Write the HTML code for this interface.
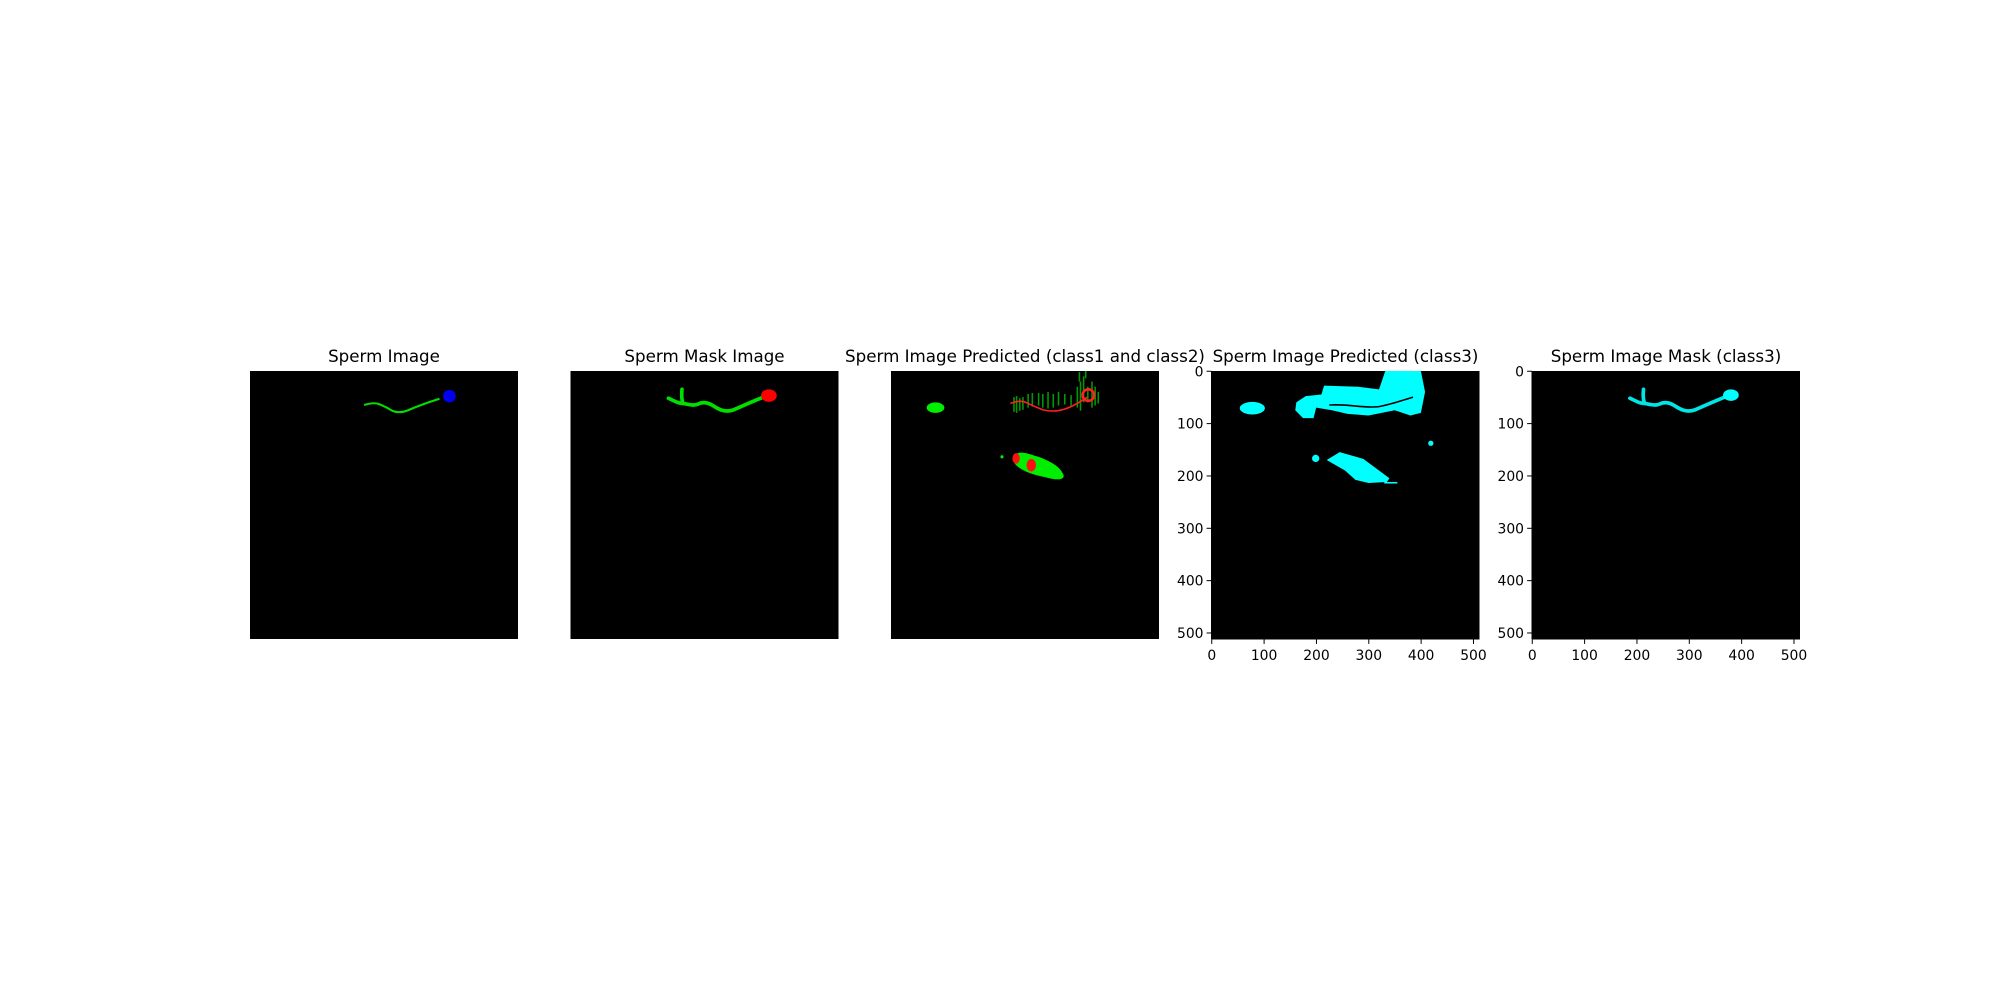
<!DOCTYPE html>
<html><head><meta charset="utf-8">
<style>
html,body{margin:0;padding:0;background:#fff;}
svg{display:block;font-family:"DejaVu Sans","Liberation Sans",sans-serif;}
</style></head>
<body>
<svg id="fig" width="2000" height="1000" viewBox="0 0 2000 1000" xmlns="http://www.w3.org/2000/svg">
<rect width="2000" height="1000" fill="#fff"/>
</svg>
<script>
const titles=["Sperm Image","Sperm Mask Image","Sperm Image Predicted (class1 and class2)","Sperm Image Predicted (class3)","Sperm Image Mask (class3)"];
const panelLefts=[250,570.5,891,1211.5,1532];
const showAxes=[false,false,false,true,true];
const tickValues=[0,100,200,300,400,500];
const tickLabels=["0","100","200","300","400","500"];
const imgSize=512;
const top0=371, side=268;
const NS="http://www.w3.org/2000/svg";
const fig=document.getElementById('fig');
function el(t,a,p){const e=document.createElementNS(NS,t);for(const k in a)e.setAttribute(k,a[k]);(p||fig).appendChild(e);return e;}
const tail1="M218,65 C228,62 238,60 246,63 C256,67 262,70 270,75 C280,80 292,79 302,75 C320,67 340,60 362,53";
const mask="M187,52 C200,58 206,62 215,62 C228,64 236,67 244,63 C252,59 262,60 272,66 C284,74 296,80 312,74 C330,66 348,58 368,50 M213,35 C212,45 212,54 215,62";
const shapes=[
 `<path d="${tail1}" stroke="#00e000" stroke-width="4" fill="none"/><circle cx="381" cy="48" r="12" fill="#0000ee"/>`,
 `<path d="${mask}" stroke="#00e000" stroke-width="7" fill="none" stroke-linecap="round"/><ellipse cx="379" cy="47" rx="15" ry="12" fill="#ff0000"/>`,
 `<ellipse cx="85" cy="70" rx="17" ry="10" fill="#00ee00"/>
  <g stroke="#00c000" stroke-width="3" opacity="0.8">
   <path d="M235,50 V78 M240,48 V80 M246,52 V76 M252,50 V74 M262,44 V70 M270,42 V68 M282,42 V66 M290,44 V70 M300,40 V72 M310,44 V70 M320,40 V66 M332,44 V64 M344,46 V66 M356,30 V70 M362,20 V76 M368,10 V60 M376,30 V60 M384,20 V70 M390,30 V66 M396,40 V62 M360,2 V20 M372,0 V14"/>
  </g>
  <path d="M228,62 C238,58 248,56 258,60 C270,66 280,70 290,74 C320,82 345,70 375,50" stroke="#ff2020" stroke-width="3" fill="none"/>
  <circle cx="377" cy="46" r="11" fill="none" stroke="#ff2020" stroke-width="5"/>
  <path d="M235,162 C245,150 262,158 285,165 C310,175 325,185 330,200 C330,210 312,208 295,203 C270,198 245,190 235,175 Z" fill="#00ee00"/>
  <ellipse cx="239" cy="167" rx="7" ry="10" fill="#ff1010"/><ellipse cx="268" cy="180" rx="9" ry="12" fill="#ff1010"/>
  <circle cx="212" cy="164" r="3" fill="#00ee00"/>`,
 `<ellipse cx="78" cy="71" rx="24" ry="12" fill="#00ffff"/>
  <path d="M162,60 L180,48 L210,45 L215,28 L280,30 L320,35 L332,0 L400,0 L408,40 L400,80 L380,85 L350,75 L300,85 L260,82 L230,75 L200,70 L195,90 L175,90 L160,75 Z" fill="#00ffff"/>
  <path d="M225,65 C260,62 290,72 320,68 C340,64 360,58 385,50" stroke="#000" stroke-width="3" fill="none"/>
  <circle cx="199" cy="167" r="7" fill="#00ffff"/><circle cx="419" cy="138" r="5" fill="#00ffff"/>
  <path d="M220,170 L245,155 L290,168 L320,190 L340,205 L335,212 L300,214 L275,208 L255,190 Z" fill="#00ffff"/>
  <rect x="330" y="212" width="25" height="3" fill="#00ffff"/>`,
 `<path d="${mask}" stroke="#00e5e5" stroke-width="7" fill="none" stroke-linecap="round"/><ellipse cx="380" cy="46" rx="15" ry="11" fill="#00ffff"/>`
];
panelLefts.forEach((L,i)=>{
  const g=el('g',{});
  
  
  const t=el('text',{x:L+side/2,y:top0-9,'text-anchor':'middle','font-size':'16.7',fill:'#000'},g);
  t.textContent=titles[i];
  
  
  const bg=el('rect',{x:L,y:top0,width:side,height:side,fill:'#000'},g);
  
  
  const s=side/imgSize;
  const im=el('g',{transform:`translate(${L},${top0}) scale(${s})`},g);
  im.innerHTML=shapes[i];
  
  
  if(showAxes[i]){
    const pos=v=>(v+0.5)*s;
    el('line',{x1:L,y1:top0,x2:L,y2:top0+side,stroke:'#000','stroke-width':1},g);
    el('line',{x1:L,y1:top0+side,x2:L+side,y2:top0+side,stroke:'#000','stroke-width':1},g);
    tickValues.forEach((v,k)=>{
      const y=top0+pos(v);
      el('line',{x1:L-4.9,y1:y,x2:L,y2:y,stroke:'#000','stroke-width':1},g);
      const ty=el('text',{x:L-8,y:y+5,'text-anchor':'end','font-size':'13.9',fill:'#000'},g);
      ty.textContent=tickLabels[k];
      
      
      const x=L+pos(v);
      el('line',{x1:x,y1:top0+side,x2:x,y2:top0+side+4.9,stroke:'#000','stroke-width':1},g);
      const tx=el('text',{x:x,y:top0+side+21,'text-anchor':'middle','font-size':'13.9',fill:'#000'},g);
      tx.textContent=tickLabels[k];
      
      
    });
  }
});
</script>
</body></html>
